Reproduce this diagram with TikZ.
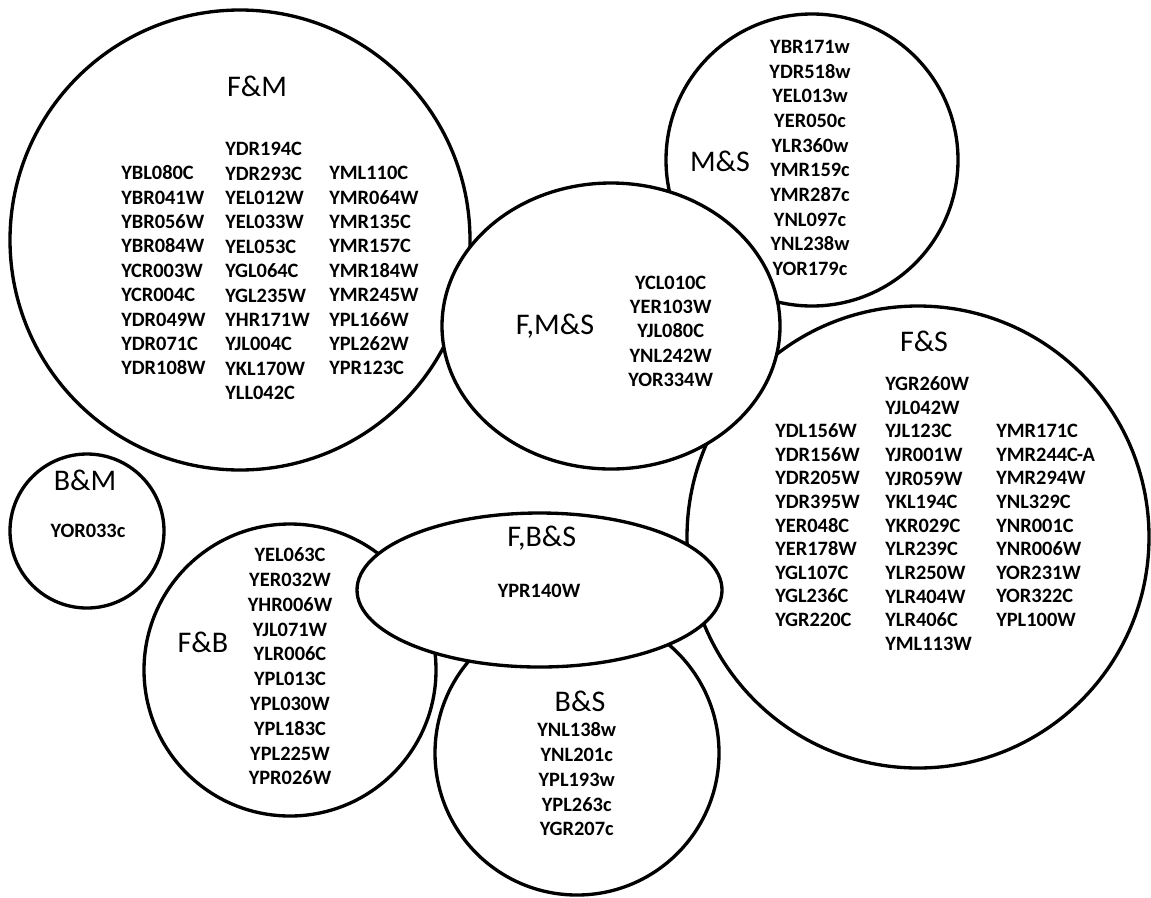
\documentclass[tikz,border=0pt]{standalone}
\usepackage{fontspec}
\setmainfont{Carlito}
\usetikzlibrary{shapes.geometric}
\begin{document}
\begin{tikzpicture}[x=0.75pt, y=-0.75pt,
  set/.style={draw, line width=2.5pt, fill=white, inner sep=0pt, circle},
  oval/.style={draw, line width=2.5pt, fill=white, inner sep=0pt, ellipse},
  title/.style={font=\fontsize{22.5}{27}\selectfont, inner sep=0pt, anchor=base},
  gene/.style={font=\bfseries\fontsize{15.3}{18}\selectfont, inner sep=0pt},
]
\useasboundingbox (0,0) rectangle (1151,897);

% sets drawn as circles
\node[set, minimum size=345pt]   (FM) at (240,240) {};
\node[set, minimum size=219pt]   (MS) at (812,160) {};
\node[set, minimum size=346.5pt] (FS) at (918,537) {};
\node[set, minimum size=115.5pt] (BM) at (87,531) {};
\node[set, minimum size=219pt]   (FB) at (290,670) {};
\node[set, minimum size=213pt]   (BS) at (577,753) {};
% three-way intersections on top
\node[oval, minimum width=253.5pt, minimum height=214.5pt] (FMS) at (611,326) {};
\node[oval, minimum width=273.75pt, minimum height=115.5pt] (FBS) at (539.5,590) {};

% titles
\node[title] (tFM)  at (257,96.7)    {F\&M};
\node[title] (tMS)  at (720,171.7)   {M\&S};
\node[title] (tFMS) at (555,334.7)   {F,M\&S};
\node[title] (tFS)  at (924,351.7)   {F\&S};
\node[title] (tBM)  at (85,490.7)    {B\&M};
\node[title] (tFB)  at (203,652.7)   {F\&B};
\node[title] (tFBS) at (541.7,546.4) {F,B\&S};
\node[title] (tBS)  at (580,711.4)   {B\&S};

% F&M genes
\foreach \g [count=\i from 0] in {YBL080C,YBR041W,YBR056W,YBR084W,YCR003W,YCR004C,YDR049W,YDR071C,YDR108W}
  \node[gene, anchor=base west] (fma\i) at (121,{179.6+24.4*\i}) {\g};
\foreach \g [count=\i from 0] in {YDR194C,YDR293C,YEL012W,YEL033W,YEL053C,YGL064C,YGL235W,YHR171W,YJL004C,YKL170W,YLL042C}
  \node[gene, anchor=base west] (fmb\i) at (225,{155.6+24.4*\i}) {\g};
\foreach \g [count=\i from 0] in {YML110C,YMR064W,YMR135C,YMR157C,YMR184W,YMR245W,YPL166W,YPL262W,YPR123C}
  \node[gene, anchor=base west] (fmc\i) at (329,{179.6+24.4*\i}) {\g};

% M&S genes
\foreach \g [count=\i from 0] in {YBR171w,YDR518w,YEL013w,YER050c,YLR360w,YMR159c,YMR287c,YNL097c,YNL238w,YOR179c}
  \node[gene, anchor=base] (ms\i) at (810,{53.3+24.7*\i}) {\g};

% F,M&S genes
\foreach \g [count=\i from 0] in {YCL010C,YER103W,YJL080C,YNL242W,YOR334W}
  \node[gene, anchor=base] (fms\i) at (670.7,{289.3+24.3*\i}) {\g};

% F&S genes
\foreach \g [count=\i from 0] in {YDL156W,YDR156W,YDR205W,YDR395W,YER048C,YER178W,YGL107C,YGL236C,YGR220C}
  \node[gene, anchor=base west] (fsa\i) at (775,{437.6+23.6*\i}) {\g};
\foreach \g [count=\i from 0] in {YGR260W,YJL042W,YJL123C,YJR001W,YJR059W,YKL194C,YKR029C,YLR239C,YLR250W,YLR404W,YLR406C,YML113W}
  \node[gene, anchor=base west] (fsb\i) at (885,{390.6+23.6*\i}) {\g};
\foreach \g [count=\i from 0] in {YMR171C,YMR244C-A,YMR294W,YNL329C,YNR001C,YNR006W,YOR231W,YOR322C,YPL100W}
  \node[gene, anchor=base west] (fsc\i) at (996,{437.6+23.6*\i}) {\g};

% B&M gene
\node[gene, anchor=base] (bm0) at (88,537.6) {YOR033c};

% F&B genes
\foreach \g [count=\i from 0] in {YEL063C,YER032W,YHR006W,YJL071W,YLR006C,YPL013C,YPL030W,YPL183C,YPL225W,YPR026W}
  \node[gene, anchor=base] (fb\i) at (290,{561.6+24.8*\i}) {\g};

% F,B&S gene
\node[gene, anchor=base] (fbs0) at (539,597.3) {YPR140W};

% B&S genes
\foreach \g [count=\i from 0] in {YNL138w,YNL201c,YPL193w,YPL263c,YGR207c}
  \node[gene, anchor=base] (bs\i) at (576.7,{736.6+24.8*\i}) {\g};
\end{tikzpicture}
\end{document}
